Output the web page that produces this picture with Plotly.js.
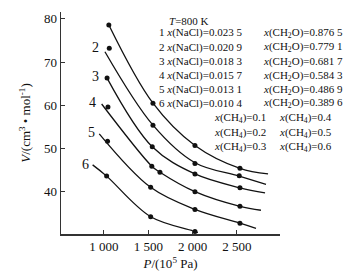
<!DOCTYPE html>
<html>
<head>
<meta charset="utf-8">
<script src="https://cdn.plot.ly/plotly-3.0.1.min.js"></script>
<style>html,body{margin:0;padding:0;background:#fff;}#chart{width:355px;height:278px;}</style>
</head>
<body>
<div id="chart"></div>
<script>
// Fitted curves
const line1P = [1055, 1553, 2027, 2535, 2852];
const line1V = [78.6, 60.5, 50.7, 45.4, 44.1];
const line2P = [1011, 1553, 2027, 2527, 2829];
const line2V = [72.4, 55.4, 46.7, 43.6, 41.7];
const line3P = [1035, 1545, 2027, 2535, 2818];
const line3V = [66.3, 50.4, 44.1, 40.9, 39.7];
const line4P = [974, 1540, 1632, 2027, 2535, 2772];
const line4V = [60.3, 45.9, 44.5, 40.0, 36.6, 35.7];
const line5P = [947, 1527, 2027, 2535, 2716];
const line5V = [53.4, 41.0, 35.9, 32.7, 31.5];
const line6P = [872, 1030, 1527, 2027, 2060];
const line6V = [46.2, 43.6, 34.2, 30.8, 30.5];

// Measured points
const pts1P = [1055, 1553, 2027, 2535];
const pts1V = [78.6, 60.5, 50.7, 45.4];
const pts2P = [1060, 1553, 2027, 2527];
const pts2V = [73.2, 55.4, 46.5, 43.7];
const pts3P = [1035, 1545, 2027, 2535];
const pts3V = [66.3, 50.4, 44.1, 40.9];
const pts4P = [1045, 1540, 1632, 2027, 2535];
const pts4V = [59.6, 45.9, 44.5, 40.0, 36.6];
const pts5P = [1040, 1527, 2027, 2535];
const pts5V = [51.7, 41.0, 35.9, 32.7];
const pts6P = [1030, 1527, 2027];
const pts6V = [43.6, 34.2, 30.8];

// Curve number labels
const curveLabels = ['2', '3', '4', '5', '6'];
const curveLabelP = [905, 910, 870, 860, 790];
const curveLabelV = [73.4, 66.6, 60.6, 53.6, 46.3];

// Tick labels
const xTickVals = [1000, 1500, 2000, 2500];
const xTickText = ['1 000', '1 500', '2 000', '2 500'];
const yTickVals = [30, 40, 50, 60, 70, 80];

// Legend text
const tempText = '<i>T</i>=800 K';
const naclText = ['1 <i>x</i>(NaCl)=0.023 5', '2 <i>x</i>(NaCl)=0.020 9', '3 <i>x</i>(NaCl)=0.018 3',
                  '4 <i>x</i>(NaCl)=0.015 7', '5 <i>x</i>(NaCl)=0.013 1', '6 <i>x</i>(NaCl)=0.010 4'];
const waterText = ['<i>x</i>(CH<sub>2</sub>O)=0.876 5', '<i>x</i>(CH<sub>2</sub>O)=0.779 1', '<i>x</i>(CH<sub>2</sub>O)=0.681 7',
                   '<i>x</i>(CH<sub>2</sub>O)=0.584 3', '<i>x</i>(CH<sub>2</sub>O)=0.486 9', '<i>x</i>(CH<sub>2</sub>O)=0.389 6'];
const ch4Left = ['<i>x</i>(CH<sub>4</sub>)=0.1', '<i>x</i>(CH<sub>4</sub>)=0.2', '<i>x</i>(CH<sub>4</sub>)=0.3'];
const ch4Right = ['<i>x</i>(CH<sub>4</sub>)=0.4', '<i>x</i>(CH<sub>4</sub>)=0.5', '<i>x</i>(CH<sub>4</sub>)=0.6'];

const FONT = 'Liberation Serif, Times New Roman, serif';
const lines = [[line1P, line1V], [line2P, line2V], [line3P, line3V], [line4P, line4V], [line5P, line5V], [line6P, line6V]];
const pts = [[pts1P, pts1V], [pts2P, pts2V], [pts3P, pts3V], [pts4P, pts4V], [pts5P, pts5V], [pts6P, pts6V]];

const traces = [];
lines.forEach(l => traces.push({x: l[0], y: l[1], mode: 'lines', type: 'scatter',
  line: {color: '#111', width: 1.3, shape: 'spline', smoothing: 1}, hoverinfo: 'skip'}));
pts.forEach(p => traces.push({x: p[0], y: p[1], mode: 'markers', type: 'scatter',
  marker: {color: '#111', size: 5}, cliponaxis: false}));

// plot area pixels: left 61, right 280, top 12, bottom 234.5
const L = 61, R = 280, T = 12, B = 234.5;
const px = x => (x - L) / (R - L);
const py = y => (B - y) / (B - T);

const ann = [];
curveLabels.forEach((t, i) => ann.push({x: curveLabelP[i], y: curveLabelV[i], xref: 'x', yref: 'y', text: t,
  showarrow: false, font: {family: FONT, size: 14, color: '#111'}, xanchor: 'center', yanchor: 'middle'}));
function addText(t, x, y) {
  ann.push({x: px(x), y: py(y), xref: 'paper', yref: 'paper', text: t, showarrow: false,
    xanchor: 'left', yanchor: 'middle', font: {family: FONT, size: 11, color: '#111'}});
}
addText(tempText, 167, 21.5);
const rowY = [33, 47.5, 62, 76, 90, 103.5];
naclText.forEach((t, i) => { addText(t, 157, rowY[i]); addText(waterText[i], 261, rowY[i]); });
const ch4Y = [118, 133, 147];
ch4Left.forEach((t, i) => { addText(t, 212, ch4Y[i]); addText(ch4Right[i], 277, ch4Y[i]); });

const layout = {
  width: 355, height: 278,
  margin: {l: L, r: 355 - R, t: T, b: 278 - B},
  paper_bgcolor: '#fff', plot_bgcolor: '#fff',
  showlegend: false,
  font: {family: FONT, color: '#111'},
  xaxis: {
    range: [515, 2987], showgrid: false, zeroline: false,
    showline: true, linecolor: '#333', linewidth: 1.5, mirror: false,
    ticks: 'inside', ticklen: 4, tickcolor: '#333', tickwidth: 1,
    tickvals: xTickVals, ticktext: xTickText,
    tickfont: {family: FONT, size: 13, color: '#111'},
    title: {text: '<i>P</i>/(10<sup>5</sup> Pa)', font: {family: FONT, size: 13, color: '#111'}, standoff: 6},
    automargin: false
  },
  yaxis: {
    range: [30.2, 81.6], showgrid: false, zeroline: false,
    showline: true, linecolor: '#333', linewidth: 1.5, mirror: false,
    ticks: 'inside', ticklen: 4, tickcolor: '#333', tickwidth: 1,
    tickvals: yTickVals,
    tickfont: {family: FONT, size: 13, color: '#111'},
    title: {text: '<i>V</i>/(cm<sup>3</sup> • mol<sup>-1</sup>)', font: {family: FONT, size: 13, color: '#111'}, standoff: 10},
    automargin: false
  },
  annotations: ann
};
Plotly.newPlot('chart', traces, layout, {staticPlot: true, displayModeBar: false});
</script>
</body>
</html>
